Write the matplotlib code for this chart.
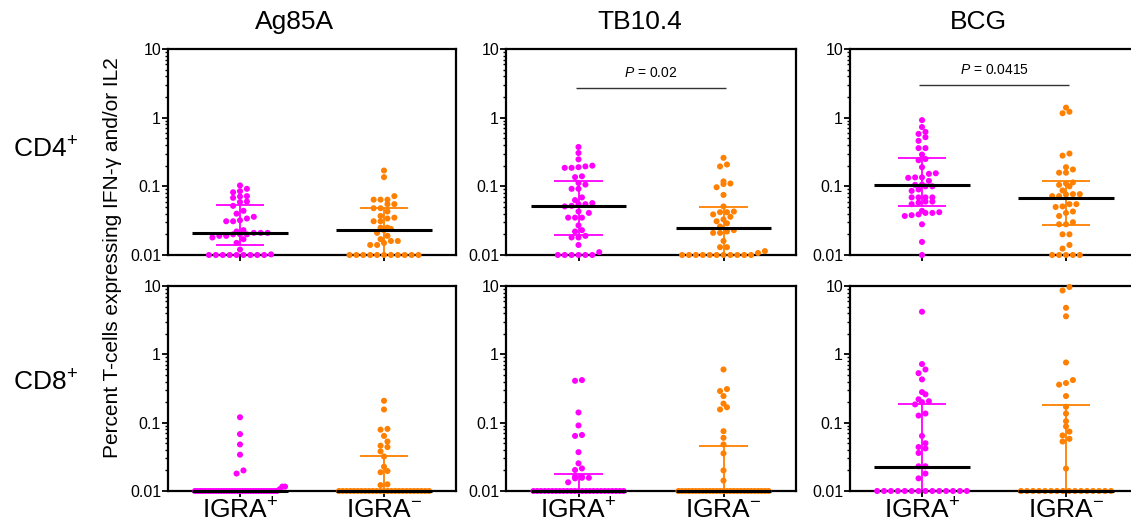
import numpy as np
import matplotlib.pyplot as plt
from matplotlib.ticker import LogLocator, NullFormatter

plt.rcParams['font.family'] = ['Liberation Sans', 'DejaVu Sans']
plt.rcParams['mathtext.fontset'] = 'custom'
plt.rcParams['mathtext.rm'] = 'Liberation Sans'
plt.rcParams['mathtext.it'] = 'Liberation Sans:italic'

# ---- data (percent of T-cells, floor = 0.01) ----
antigens = ['Ag85A', 'TB10.4', 'BCG']
cell_types = ['CD4$^{+}$', 'CD8$^{+}$']
groups = ['IGRA$^{+}$', 'IGRA$^{-}$']

ag85a_cd4_pos = [0.103, 0.092, 0.085, 0.082, 0.072, 0.068, 0.071, 0.060, 0.059, 0.052,
                 0.044, 0.040, 0.036, 0.034, 0.032, 0.031, 0.031, 0.023, 0.021, 0.020,
                 0.019, 0.020, 0.021, 0.020, 0.019, 0.021, 0.022, 0.018, 0.017, 0.015,
                 0.012, 0.0102] + [0.01] * 9
ag85a_cd4_neg = [0.170, 0.136, 0.072, 0.064, 0.064, 0.064, 0.055, 0.055, 0.048, 0.048,
                 0.043, 0.037, 0.035, 0.031, 0.031, 0.034, 0.025, 0.023, 0.024, 0.025,
                 0.021, 0.017, 0.016, 0.019, 0.016, 0.014, 0.014, 0.015] + [0.01] * 11
tb104_cd4_pos = [0.374, 0.306, 0.247, 0.200, 0.190, 0.186, 0.186, 0.195, 0.136, 0.140,
                 0.106, 0.112, 0.092, 0.092, 0.069, 0.063, 0.055, 0.051, 0.055, 0.057,
                 0.052, 0.043, 0.041, 0.035, 0.035, 0.035, 0.027, 0.023, 0.022, 0.019,
                 0.018, 0.018, 0.014, 0.011] + [0.01] * 6
tb104_cd4_neg = [0.260, 0.208, 0.195, 0.118, 0.108, 0.097, 0.110, 0.075, 0.051, 0.043,
                 0.042, 0.039, 0.042, 0.036, 0.033, 0.029, 0.031, 0.026, 0.022, 0.021,
                 0.021, 0.023, 0.016, 0.013, 0.013, 0.0114, 0.0107] + [0.01] * 11
bcg_cd4_pos = [0.92, 0.73, 0.62, 0.58, 0.52, 0.46, 0.36, 0.36, 0.29, 0.25, 0.24, 0.19,
               0.152, 0.155, 0.135, 0.135, 0.133, 0.120, 0.105, 0.106, 0.100, 0.100,
               0.090, 0.086, 0.069, 0.069, 0.069, 0.069, 0.060, 0.058, 0.060, 0.055,
               0.042, 0.041, 0.038, 0.037, 0.039, 0.041, 0.044, 0.028, 0.0155, 0.01]
bcg_cd4_neg = [1.40, 1.22, 1.16, 0.30, 0.28, 0.19, 0.176, 0.158, 0.158, 0.114, 0.105,
               0.110, 0.100, 0.087, 0.077, 0.076, 0.077, 0.072, 0.072, 0.055, 0.055,
               0.051, 0.050, 0.043, 0.041, 0.037, 0.030, 0.028, 0.028, 0.020, 0.020,
               0.014, 0.0124] + [0.01] * 5

ag85a_cd8_pos = [0.12, 0.068, 0.048, 0.034, 0.020, 0.018, 0.0116, 0.0116, 0.0106] + [0.01] * 32
ag85a_cd8_neg = [0.209, 0.156, 0.081, 0.079, 0.064, 0.053, 0.046, 0.044, 0.038, 0.032,
                 0.0227, 0.0196, 0.0188, 0.0122, 0.0125] + [0.01] * 25
tb104_cd8_pos = [0.42, 0.41, 0.141, 0.091, 0.064, 0.066, 0.037, 0.0254, 0.0203, 0.0214,
                 0.0162, 0.0156, 0.0153, 0.0156, 0.0162, 0.0134] + [0.01] * 25
tb104_cd8_neg = [0.60, 0.29, 0.31, 0.245, 0.19, 0.168, 0.156, 0.075, 0.060, 0.048,
                 0.0355, 0.020, 0.0142] + [0.01] * 27
bcg_cd8_pos = [4.2, 0.72, 0.60, 0.53, 0.43, 0.28, 0.26, 0.22, 0.206, 0.20, 0.185, 0.136,
               0.127, 0.064, 0.050, 0.044, 0.042, 0.036, 0.023, 0.023, 0.018, 0.0153] + [0.01] * 14
bcg_cd8_neg = [9.66, 8.6, 4.8, 3.6, 0.76, 0.42, 0.38, 0.36, 0.245, 0.171, 0.136, 0.105,
               0.088, 0.074, 0.065, 0.058, 0.053, 0.0213] + [0.01] * 16

# median and interquartile range per antigen
median_cd4_pos = [0.021, 0.052, 0.103]
q1_cd4_pos = [0.014, 0.0195, 0.052]
q3_cd4_pos = [0.053, 0.12, 0.26]
median_cd4_neg = [0.023, 0.025, 0.068]
q1_cd4_neg = [0.01, 0.01, 0.027]
q3_cd4_neg = [0.048, 0.05, 0.12]
median_cd8_pos = [0.01, 0.01, 0.0225]
q1_cd8_pos = [0.01, 0.01, 0.01]
q3_cd8_pos = [0.01, 0.0175, 0.19]
median_cd8_neg = [0.01, 0.01, 0.01]
q1_cd8_neg = [0.01, 0.01, 0.01]
q3_cd8_neg = [0.032, 0.045, 0.18]

p_labels = [None, '$P$ = 0.02', '$P$ = 0.0415']
p_heights = [None, 2.7, 3.0]

values = [[(ag85a_cd4_pos, ag85a_cd4_neg), (tb104_cd4_pos, tb104_cd4_neg), (bcg_cd4_pos, bcg_cd4_neg)],
          [(ag85a_cd8_pos, ag85a_cd8_neg), (tb104_cd8_pos, tb104_cd8_neg), (bcg_cd8_pos, bcg_cd8_neg)]]
stats = [[(median_cd4_pos, q1_cd4_pos, q3_cd4_pos), (median_cd4_neg, q1_cd4_neg, q3_cd4_neg)],
         [(median_cd8_pos, q1_cd8_pos, q3_cd8_pos), (median_cd8_neg, q1_cd8_neg, q3_cd8_neg)]]

colors = ['#ff00ff', '#ff8000']

W, H = 1131, 521
col_left = [168, 506, 850]
col_w = [288, 290, 288]
row_top = [49, 286]
row_h = [206, 205]


def swarm_offsets(vals, px_per_unit, px_per_decade, dot_step=6.9, max_width=90.0, row_tol=5.0):
    # group points into horizontal rows, spread each row symmetrically
    logv = np.log10(vals)
    order = np.argsort(logv, kind='stable')
    rows, cur, start = [], [order[0]], logv[order[0]]
    for i in order[1:]:
        if (logv[i] - start) * px_per_decade < row_tol:
            cur.append(i)
        else:
            rows.append(cur)
            cur, start = [i], logv[i]
    rows.append(cur)
    offs = np.zeros(len(vals))
    for row in rows:
        n = len(row)
        step = min(dot_step, max_width / (n - 1)) if n > 1 else 0
        for k, i in enumerate(row):
            offs[i] = (k - (n - 1) / 2) * step
    return offs / px_per_unit


fig = plt.figure(figsize=(W / 100, H / 100), dpi=100)

for r in range(2):
    for c in range(3):
        ax = fig.add_axes([col_left[c] / W, 1 - (row_top[r] + row_h[r]) / H,
                           col_w[c] / W, row_h[r] / H])
        ax.set_yscale('log')
        ax.set_ylim(0.01, 10)
        ax.set_xlim(0.5, 2.5)
        px_per_unit = col_w[c] / 2.0
        px_per_decade = row_h[r] / 3.0

        for g in range(2):
            x0 = g + 1
            vals = np.array(values[r][c][g])
            med = stats[r][g][0][c]
            q1 = stats[r][g][1][c]
            q3 = stats[r][g][2][c]
            # IQR bar
            ax.vlines(x0, q1, q3, color=colors[g], lw=1.3, zorder=2, clip_on=False)
            ax.hlines([q1, q3], x0 - 0.17, x0 + 0.17, color=colors[g], lw=1.3, zorder=2, clip_on=False)
            # dots
            xs = x0 + swarm_offsets(vals, px_per_unit, px_per_decade)
            ax.scatter(xs, vals, s=19, color=colors[g], edgecolors='none', zorder=3, clip_on=False)
            # median
            ax.hlines(med, x0 - 0.33, x0 + 0.33, color='black', lw=2.2, zorder=4, clip_on=False)

        if r == 0 and p_labels[c]:
            ax.hlines(p_heights[c], 0.98, 2.02, color='#333333', lw=1.0)
            ax.text(1.5, p_heights[c] * 1.32, p_labels[c], ha='center', va='bottom', fontsize=10)

        for s in ax.spines.values():
            s.set_linewidth(1.6)
        ax.set_yticks([0.01, 0.1, 1, 10])
        ax.set_yticklabels(['0.01', '0.1', '1', '10'], fontsize=11.5)
        ax.yaxis.set_minor_locator(LogLocator(base=10, subs=np.arange(2, 10)))
        ax.yaxis.set_minor_formatter(NullFormatter())
        ax.tick_params(axis='y', which='major', length=4, width=1.3, pad=1)
        ax.tick_params(axis='y', which='minor', length=2.2, width=1.0)
        ax.set_xticks([1, 2])
        ax.tick_params(axis='x', length=4, width=1.3, pad=1)
        if r == 1:
            ax.set_xticklabels(groups, fontsize=19)
        else:
            ax.set_xticklabels([])

title_x = [295, 640, 978]
for c in range(3):
    fig.text(title_x[c] / W, 1 - 22 / H, antigens[c], ha='center', va='center', fontsize=19)

fig.text(13 / W, 1 - 150 / H, cell_types[0], ha='left', va='center', fontsize=19)
fig.text(13 / W, 1 - 383 / H, cell_types[1], ha='left', va='center', fontsize=19)
fig.text(113 / W, 1 - 258 / H, 'Percent T-cells expressing IFN-γ and/or IL2',
         rotation=90, ha='center', va='center', fontsize=15)

fig.savefig('out.png', dpi=100)
